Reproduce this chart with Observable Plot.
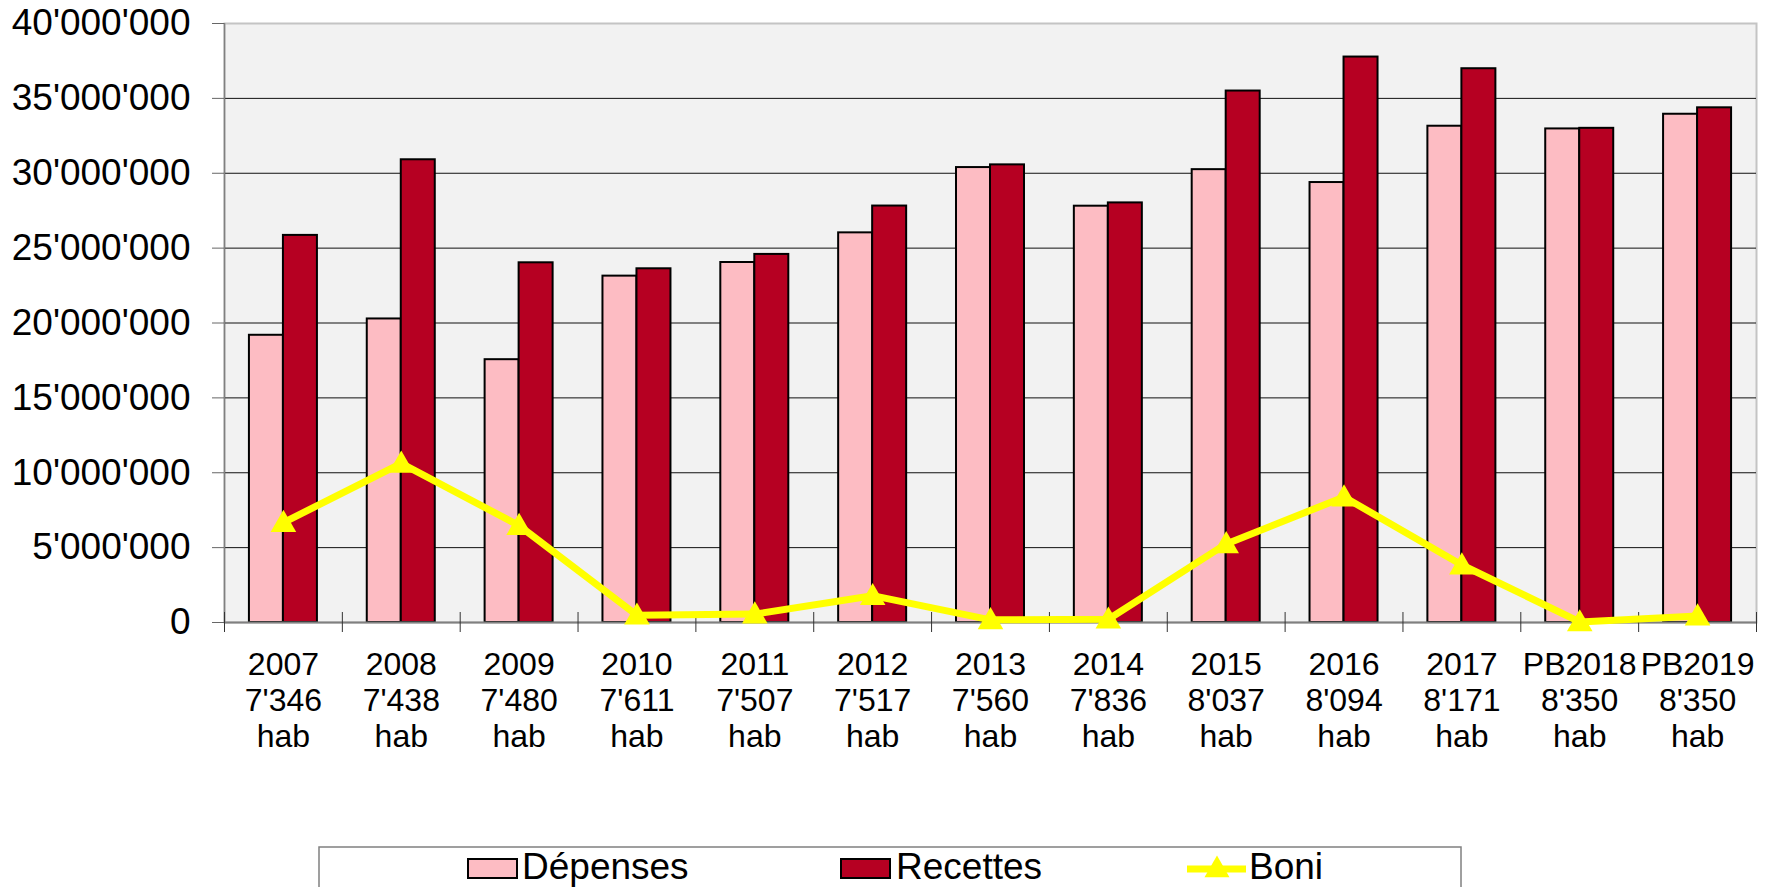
<!DOCTYPE html>
<html><head><meta charset="utf-8">
<script src="https://cdn.jsdelivr.net/npm/d3@7"></script>
<script src="https://cdn.jsdelivr.net/npm/@observablehq/plot@0.6"></script>
<style>
body{margin:0;background:#fff;font-family:"Liberation Sans",Arial,sans-serif;}
#chart svg, #legend svg{display:block;}
</style></head><body><div id="chart"></div><div id="legend"></div>
<script>
const categories = ["2007","2008","2009","2010","2011","2012","2013","2014","2015","2016","2017","PB2018","PB2019"];
const habitants = ["7'346","7'438","7'480","7'611","7'507","7'517","7'560","7'836","8'037","8'094","8'171","8'350","8'350"];
const depenses = [19180000,20270000,17550000,23130000,24040000,26020000,30380000,27800000,30240000,29380000,33140000,32960000,33940000];
const recettes = [25850000,30900000,24020000,23620000,24580000,27810000,30560000,28020000,35490000,37760000,36980000,33000000,34370000];
const boni = [6670000,10630000,6470000,490000,560000,1790000,180000,220000,5250000,8380000,3840000,40000,430000];
const yTicks = [0,5000000,10000000,15000000,20000000,25000000,30000000,35000000,40000000];
const seriesNames = ["Dépenses","Recettes","Boni"];

const PINK = "#fdbcc3", RED = "#b60022", YELLOW = "#ffff00";
const W = 1771, H = 846, mL = 224, mR = 15, mT = 23, mB = 224;
const step = (W - mL - mR) / categories.length;
const barW = 34;

const rows = categories.map((c, i) => ({cat: c, hab: habitants[i], dep: depenses[i], rec: recettes[i], boni: boni[i]}));
const fmt = d3.formatLocale({decimal: ".", thousands: "'", grouping: [3], currency: ["", ""]}).format(",.0f");

const chart = Plot.plot({
  width: W, height: H,
  marginLeft: mL, marginRight: mR, marginTop: mT, marginBottom: mB,
  style: {fontFamily: "'Liberation Sans', Arial, sans-serif", color: "#000", background: "transparent"},
  x: {type: "band", domain: categories, paddingInner: 0, paddingOuter: 0, round: false, axis: null},
  y: {domain: [0, 40000000]},
  marks: [
    Plot.frame({fill: "#f2f2f2", stroke: "#c4c4c4", strokeWidth: 2}),
    Plot.ruleY(yTicks.filter(d => d > 0 && d < 40000000), {stroke: "#111", strokeWidth: 1}),
    Plot.barY(rows, {x: "cat", y: "dep", fill: PINK, stroke: "#000", strokeWidth: 2,
      insetLeft: step / 2 - barW, insetRight: step / 2}),
    Plot.barY(rows, {x: "cat", y: "rec", fill: RED, stroke: "#000", strokeWidth: 2,
      insetLeft: step / 2, insetRight: step / 2 - barW}),
    Plot.ruleY([0], {stroke: "#808080", strokeWidth: 2}),
    Plot.ruleX([categories[0]], {x: d => d, dx: -step / 2, stroke: "#808080", strokeWidth: 1.5}),
    Plot.ruleX(categories, {x: d => d, dx: -step / 2, y1: 0, y2: 0, insetTop: -10, insetBottom: -10, stroke: "#333", strokeWidth: 1}),
    Plot.ruleX([categories[categories.length - 1]], {x: d => d, dx: step / 2, y1: 0, y2: 0, insetTop: -10, insetBottom: -10, stroke: "#333", strokeWidth: 1}),
    Plot.line(rows, {x: "cat", y: "boni", stroke: YELLOW, strokeWidth: 7, strokeLinejoin: "round"}),
    Plot.dot(rows, {x: "cat", y: "boni", symbol: "triangle", r: 9.5, dy: 2, fill: YELLOW, stroke: "none"}),
    Plot.axisY({ticks: yTicks, tickFormat: fmt, tickSize: 12, tickPadding: 22, fontSize: 37, stroke: "#666", label: null}),
    Plot.text(rows, {x: "cat", text: d => `${d.cat}\n${d.hab}\nhab`, frameAnchor: "bottom", lineAnchor: "top",
      dy: 27, fontSize: 32, lineHeight: 1.125, fill: "#000"})
  ]
});
document.getElementById("chart").appendChild(chart);

// Legend (below the SVG chart)
const lg = d3.select("#legend").append("svg").attr("width", W).attr("height", 41)
  .style("font-family", "'Liberation Sans', Arial, sans-serif");
lg.append("rect").attr("x", 319).attr("y", 1).attr("width", 1142).attr("height", 80)
  .attr("fill", "#fff").attr("stroke", "#808080").attr("stroke-width", 1.5);
lg.append("rect").attr("x", 468).attr("y", 13).attr("width", 49).attr("height", 19)
  .attr("fill", PINK).attr("stroke", "#000").attr("stroke-width", 2);
lg.append("text").attr("x", 522).attr("y", 33).attr("font-size", 37).text(seriesNames[0]);
lg.append("rect").attr("x", 841).attr("y", 13).attr("width", 49).attr("height", 19)
  .attr("fill", RED).attr("stroke", "#000").attr("stroke-width", 2);
lg.append("text").attr("x", 896).attr("y", 33).attr("font-size", 37).text(seriesNames[1]);
lg.append("line").attr("x1", 1187).attr("x2", 1246).attr("y1", 23).attr("y2", 23)
  .attr("stroke", YELLOW).attr("stroke-width", 7);
lg.append("path").attr("transform", "translate(1217,24)")
  .attr("d", d3.symbol(d3.symbolTriangle, 270)()).attr("fill", YELLOW);
lg.append("text").attr("x", 1249).attr("y", 33).attr("font-size", 37).text(seriesNames[2]);
</script>
</body></html>
